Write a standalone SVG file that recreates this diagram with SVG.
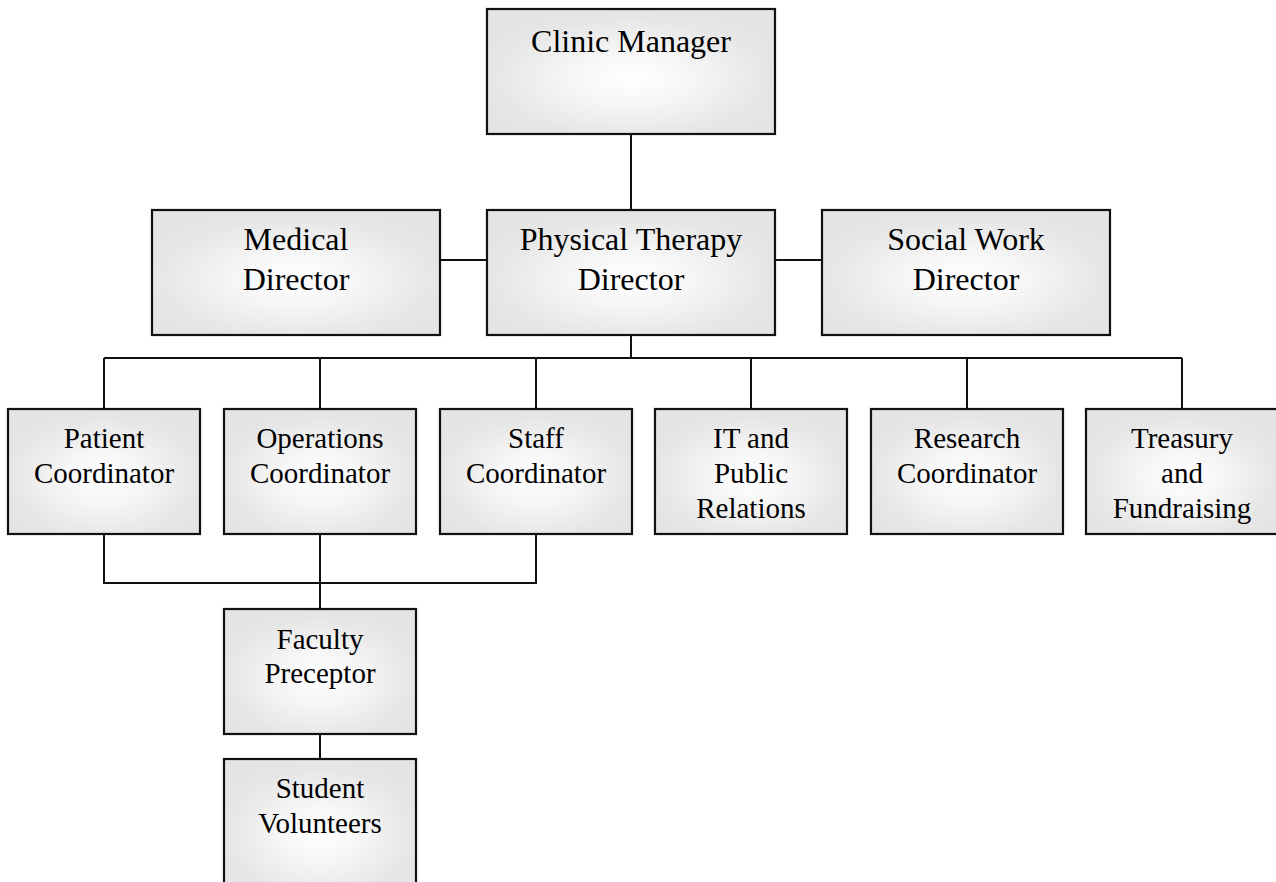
<svg xmlns="http://www.w3.org/2000/svg" width="1276" height="882" viewBox="0 0 1276 882">
  <defs>
    <radialGradient id="boxFill" cx="50%" cy="55%" r="60%" fx="50%" fy="55%">
      <stop offset="0" stop-color="#ffffff"/>
      <stop offset="0.35" stop-color="#f6f6f6"/>
      <stop offset="0.8" stop-color="#e6e6e6"/>
      <stop offset="1" stop-color="#e4e4e4"/>
    </radialGradient>
    <style>
      .box { fill: url(#boxFill); stroke: #111; stroke-width: 2.2; }
      .lbl { font-family: "Liberation Serif", "Times New Roman", serif; fill: #000; text-anchor: middle; }
      .big { font-size: 32px; }
      .small { font-size: 29px; }
      .wire { fill: none; stroke: #111; stroke-width: 2; }
    </style>
  </defs>

  <rect width="1276" height="882" fill="#fff"/>

  <!-- connectors -->
  <g id="connectors">
    <path class="wire" d="M631 134 V210"/>
    <path class="wire" d="M440 260 H487"/>
    <path class="wire" d="M775 260 H822"/>
    <path class="wire" d="M631 335 V358"/>
    <path class="wire" d="M104 358 H1182"/>
    <path class="wire" d="M104 358 V409 M320 358 V409 M536 358 V409 M751 358 V409 M967 358 V409 M1182 358 V409"/>
    <path class="wire" d="M104 534 V583 H536 V534"/>
    <path class="wire" d="M320 534 V609"/>
    <path class="wire" d="M320 734 V759"/>
  </g>

  <g id="clinic-manager">
    <rect class="box" x="487" y="9" width="288" height="125"/>
    <text class="lbl big" x="631" y="52">Clinic Manager</text>
  </g>

  <g id="medical-director">
    <rect class="box" x="152" y="210" width="288" height="125"/>
    <text class="lbl big" x="296" y="250">Medical</text>
    <text class="lbl big" x="296" y="290">Director</text>
  </g>

  <g id="physical-therapy-director">
    <rect class="box" x="487" y="210" width="288" height="125"/>
    <text class="lbl big" x="631" y="250">Physical Therapy</text>
    <text class="lbl big" x="631" y="290">Director</text>
  </g>

  <g id="social-work-director">
    <rect class="box" x="822" y="210" width="288" height="125"/>
    <text class="lbl big" x="966" y="250">Social Work</text>
    <text class="lbl big" x="966" y="290">Director</text>
  </g>

  <g id="patient-coordinator">
    <rect class="box" x="8" y="409" width="192" height="125"/>
    <text class="lbl small" x="104" y="448">Patient</text>
    <text class="lbl small" x="104" y="483">Coordinator</text>
  </g>

  <g id="operations-coordinator">
    <rect class="box" x="224" y="409" width="192" height="125"/>
    <text class="lbl small" x="320" y="448">Operations</text>
    <text class="lbl small" x="320" y="483">Coordinator</text>
  </g>

  <g id="staff-coordinator">
    <rect class="box" x="440" y="409" width="192" height="125"/>
    <text class="lbl small" x="536" y="448">Staff</text>
    <text class="lbl small" x="536" y="483">Coordinator</text>
  </g>

  <g id="it-public-relations">
    <rect class="box" x="655" y="409" width="192" height="125"/>
    <text class="lbl small" x="751" y="448">IT and</text>
    <text class="lbl small" x="751" y="483">Public</text>
    <text class="lbl small" x="751" y="518">Relations</text>
  </g>

  <g id="research-coordinator">
    <rect class="box" x="871" y="409" width="192" height="125"/>
    <text class="lbl small" x="967" y="448">Research</text>
    <text class="lbl small" x="967" y="483">Coordinator</text>
  </g>

  <g id="treasury-fundraising">
    <rect class="box" x="1086" y="409" width="192" height="125"/>
    <text class="lbl small" x="1182" y="448">Treasury</text>
    <text class="lbl small" x="1182" y="483">and</text>
    <text class="lbl small" x="1182" y="518">Fundraising</text>
  </g>

  <g id="faculty-preceptor">
    <rect class="box" x="224" y="609" width="192" height="125"/>
    <text class="lbl small" x="320" y="649">Faculty</text>
    <text class="lbl small" x="320" y="683">Preceptor</text>
  </g>

  <g id="student-volunteers">
    <rect class="box" x="224" y="759" width="192" height="135"/>
    <text class="lbl small" x="320" y="798">Student</text>
    <text class="lbl small" x="320" y="833">Volunteers</text>
  </g>
</svg>
